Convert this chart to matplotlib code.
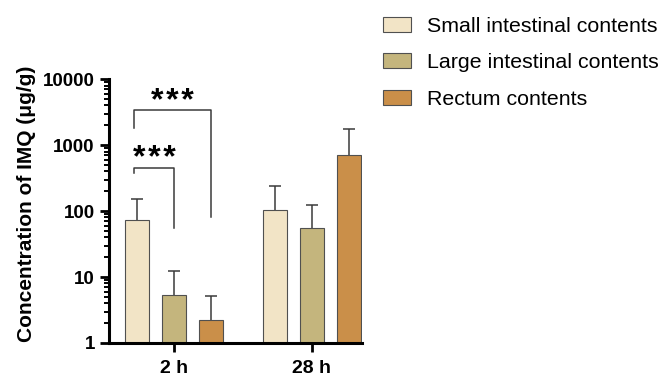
import matplotlib
matplotlib.use("Agg")
import matplotlib.pyplot as plt
import numpy as np
from matplotlib.patches import Patch
from matplotlib.ticker import LogLocator, NullFormatter

plt.rcParams['font.family'] = ['Liberation Sans', 'DejaVu Sans']

groups = ["2 h", "28 h"]
series = ["Small intestinal contents", "Large intestinal contents", "Rectum contents"]
means = {
    "Small intestinal contents": [72, 104],
    "Large intestinal contents": [5.4, 55],
    "Rectum contents": [2.2, 700],
}
upper_err = {
    "Small intestinal contents": [83, 133],
    "Large intestinal contents": [6.9, 70],
    "Rectum contents": [2.9, 1030],
}
colors = ["#F2E4C6", "#C4B57D", "#CA8F49"]
y_ticks = [1, 10, 100, 1000, 10000]
y_ticklabels = ["1", "10", "100", "1000", "10000"]
sig_label = "*\u200a*\u200a*"

fig = plt.figure(figsize=(6.67, 3.78), dpi=100)
ax = fig.add_axes([0.164, 0.0926, 0.3786, 0.698])

group_x = np.array([0.0, 1.0])
offset = 0.268
width = 0.174
for i, s in enumerate(series):
    x = group_x + (i - 1) * offset
    m = np.array(means[s])
    e = np.array(upper_err[s])
    ax.bar(x, m, width=width, color=colors[i], edgecolor="#505050", linewidth=0.8, zorder=2)
    eb = ax.errorbar(x, m, yerr=[np.zeros_like(e), e], fmt="none", ecolor="#3a3a3a",
                     elinewidth=1.1, capsize=4.3, capthick=1.1, zorder=1)
    caps = eb[1]
    if len(caps) == 2:
        caps[0].set_visible(False)

ax.set_yscale("log")
ax.set_ylim(1, 10000)
ax.set_xlim(-0.467, 1.362)
ax.set_yticks(y_ticks)
ax.set_yticklabels(y_ticklabels)
ax.yaxis.set_minor_locator(LogLocator(base=10, subs=np.arange(2, 10)))
ax.yaxis.set_minor_formatter(NullFormatter())
ax.set_xticks(group_x)
ax.set_xticklabels(groups)

for sp in ["top", "right"]:
    ax.spines[sp].set_visible(False)
for sp in ["left", "bottom"]:
    ax.spines[sp].set_linewidth(2.2)
ax.tick_params(axis="y", which="major", length=6.5, width=2.0, labelsize=13.5, pad=4)
ax.tick_params(axis="y", which="minor", length=3.5, width=1.4)
ax.tick_params(axis="x", which="major", length=6.5, width=2.0, labelsize=14, pad=6)
for lbl in ax.get_xticklabels() + ax.get_yticklabels():
    lbl.set_fontweight("bold")

ax.set_ylabel("Concentration of IMQ (μg/g)", fontsize=15, fontweight="bold", labelpad=5)
ax.yaxis.label.set_y(0.527)

# significance brackets
bx_left = group_x[0] - offset - 0.02
bx_mid = group_x[0]
bx_right = group_x[0] + offset
low_top = 445
up_top = 3350
ax.plot([bx_left, bx_left, bx_mid, bx_mid], [380, low_top, low_top, 55], color="#3a3a3a", lw=1.1, clip_on=False)
ax.plot([bx_left, bx_left, bx_right, bx_right], [1800, up_top, up_top, 80], color="#3a3a3a", lw=1.1, clip_on=False)
ax.text((bx_left + bx_mid) / 2, low_top * 1.05, sig_label, ha="center", va="baseline",
        fontsize=23, fontweight="bold", clip_on=False)
ax.text((bx_left + bx_right) / 2, up_top, sig_label, ha="center", va="baseline",
        fontsize=23, fontweight="bold", clip_on=False)

handles = [Patch(facecolor=c, edgecolor="#505050", linewidth=0.8) for c in colors]
fig.legend(handles, series, loc="upper left", bbox_to_anchor=(0.574, 0.956), frameon=False,
           fontsize=15.4, handlelength=1.31, handleheight=0.7, handletextpad=0.75, labelspacing=0.83,
           borderpad=0, borderaxespad=0)

fig.savefig("out.png", dpi=100)
